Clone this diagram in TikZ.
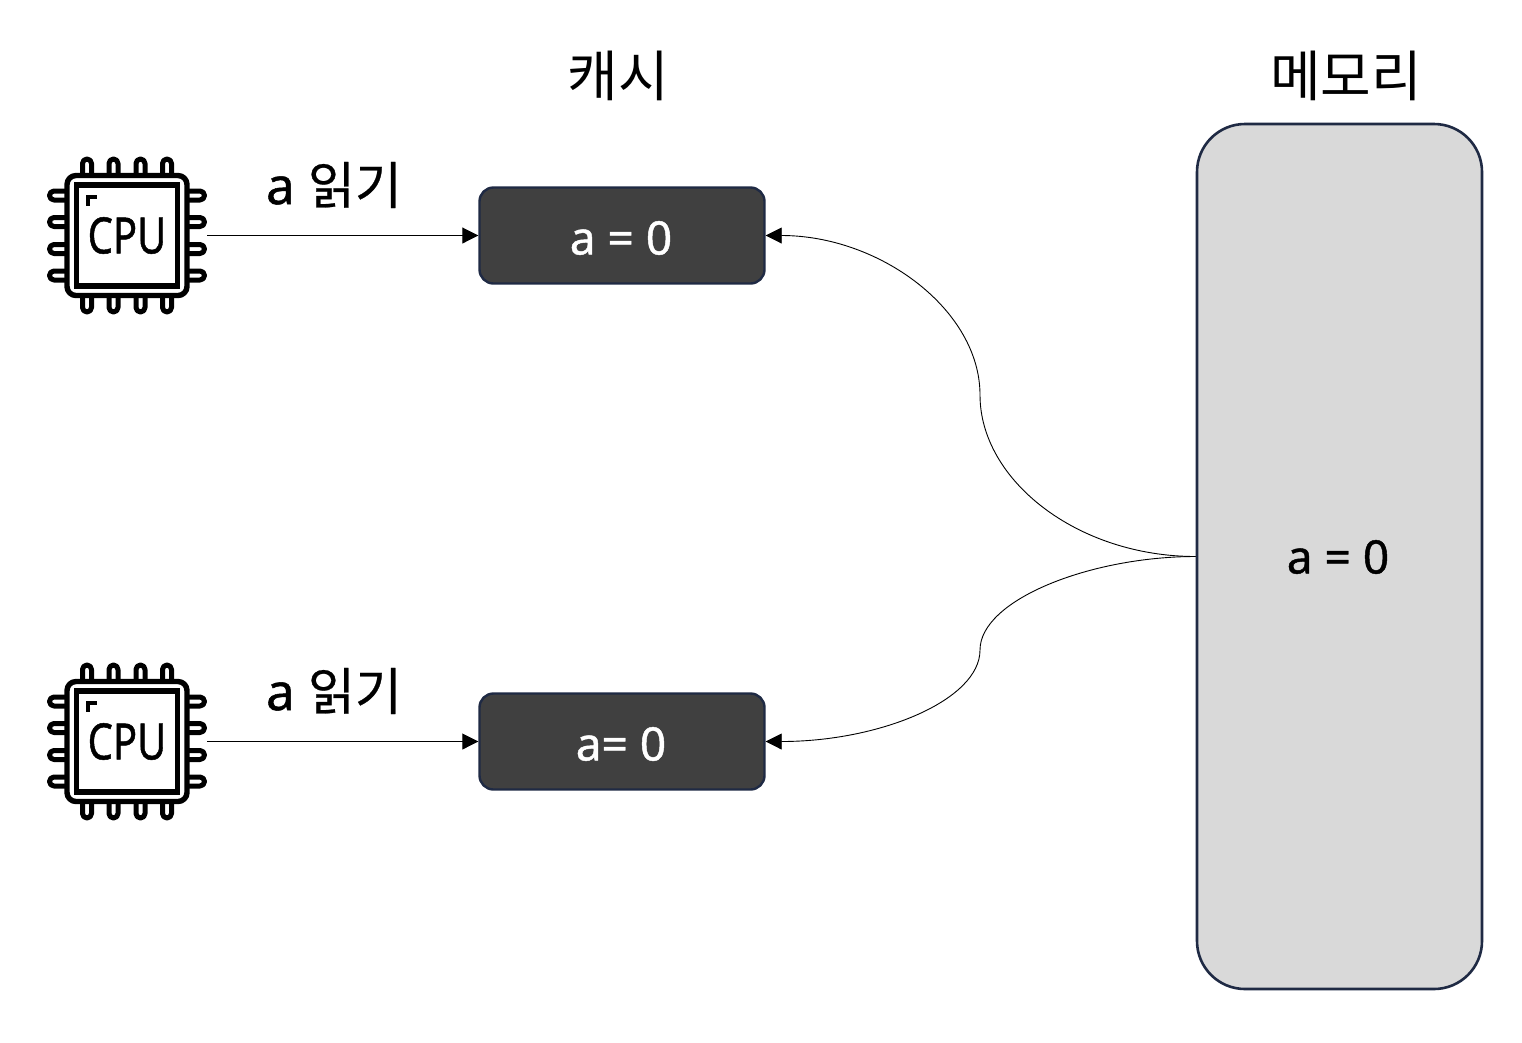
\documentclass[tikz,border=0pt]{standalone}
\usepackage{fontspec}
\setmainfont{Noto Sans}
\newfontfamily\medfont{Noto Sans}[FakeBold=1.0]
\newfontfamily\krfont{Noto Sans CJK KR}
\newfontfamily\krmed{Noto Sans CJK KR}[FakeBold=0.5]
\usetikzlibrary{arrows.meta}
\definecolor{edgeblue}{HTML}{1F2A44}
\definecolor{darkfill}{HTML}{404040}
\definecolor{memfill}{HTML}{D9D9D9}
\tikzset{
  cachebox/.style={draw=edgeblue,line width=2.4pt,fill=darkfill,rounded corners=14pt,minimum width=285pt,minimum height=96pt,inner sep=0pt},
  membox/.style={draw=edgeblue,line width=2.6pt,fill=memfill,rounded corners=48pt,minimum width=285pt,minimum height=865pt,inner sep=0pt},
  valuetext/.style={font=\medfont\fontsize{46}{50}\selectfont,inner sep=0pt},
  headtext/.style={font=\krfont\fontsize{55}{60}\selectfont,inner sep=0pt},
  readtext/.style={font=\medfont\fontsize{51}{56}\selectfont,inner sep=0pt},
  conn/.style={line width=0.9pt,-{Triangle[length=16pt,width=16pt]}},
  chipline/.style={line width=5.4pt,line join=round,line cap=round},
  pinline/.style={line width=5pt,line join=round},
  cpuarea/.style={minimum width=160pt,minimum height=160pt,inner sep=0pt},
  cputext/.style={font=\medfont\fontsize{50}{52}\selectfont,inner sep=0pt,xscale=.8}
}
\newcommand{\cpuicon}[3]{%
  \node[cpuarea] (#1) at (#2,#3) {};
  \begin{scope}[shift={(#2,#3)}]
    \foreach \p in {-40,-13.5,13.5,40}{
      \draw[pinline] (\p-4.5,-60) -- (\p-4.5,-72) arc[start angle=180,end angle=360,radius=4.5] -- (\p+4.5,-60);
      \draw[pinline] (\p-4.5,60) -- (\p-4.5,72) arc[start angle=180,end angle=0,radius=4.5] -- (\p+4.5,60);
      \draw[pinline] (-60,\p-4.5) -- (-73,\p-4.5) arc[start angle=270,end angle=90,radius=4.5] -- (-60,\p+4.5);
      \draw[pinline] (60,\p-4.5) -- (73,\p-4.5) arc[start angle=-90,end angle=90,radius=4.5] -- (60,\p+4.5);
    }
    \draw[chipline,fill=white,rounded corners=9pt] (-60,-60) rectangle (60,60);
    \draw[chipline,miter limit=4,line join=miter] (-50.5,-50.5) rectangle (50.5,50.5);
    \draw[line width=4pt] (-39,-30) -- (-39,-38.5) -- (-30,-38.5);
    \node[cputext] (#1-label) at (0,0) {CPU};
  \end{scope}}
\begin{document}
\begin{tikzpicture}[x=1pt,y=-1pt]
\useasboundingbox[fill=white] (0,0) rectangle (1522,1042);
\node[headtext] (cachehead) at (618,76) {캐시};
\node[headtext] (memhead) at (1346,76) {메모리};
\cpuicon{cpua}{127}{235.5}
\cpuicon{cpub}{127}{741.5}
\node[readtext] (reada) at (334,185) {a {\krmed 읽기}};
\node[readtext] (readb) at (334,691) {a {\krmed 읽기}};
\node[cachebox] (boxa) at (622,235.5) {};
\node[valuetext,text=white] (vala) at (621,238) {a = 0};
\node[cachebox] (boxb) at (622,741.5) {};
\node[valuetext,text=white] (valb) at (621,744) {a= 0};
\node[membox] (mem) at (1339.5,556.5) {};
\node[valuetext] (valm) at (1338,557) {a = 0};
\draw[conn] (cpua.east) -- (boxa.west);
\draw[conn] (cpub.east) -- (boxb.west);
\draw[conn] (mem.west) .. controls (1077,556.5) and (980,480) .. (980,395) .. controls (980,310) and (880,235.5) .. (boxa.east);
\draw[conn] (mem.west) .. controls (1090,556.5) and (980,600) .. (980,650) .. controls (980,700) and (880,741.5) .. (boxb.east);
\end{tikzpicture}
\end{document}
